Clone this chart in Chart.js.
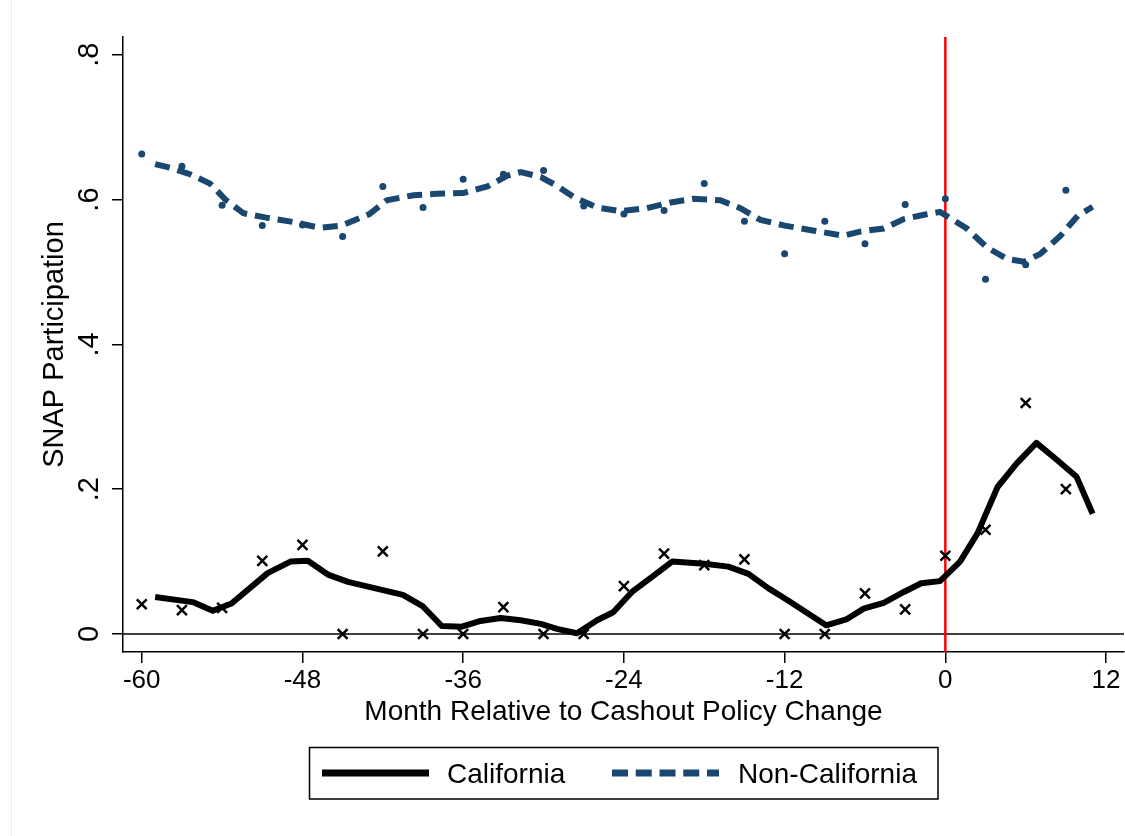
<!DOCTYPE html>
<html>
<head>
<meta charset="utf-8">
<script src="https://cdn.jsdelivr.net/npm/chart.js@4.4.0/dist/chart.umd.min.js"></script>
<style>
  html, body { margin: 0; padding: 0; background: #fff; }
  #wrap { width: 1125px; height: 836px; position: relative; }
</style>
</head>
<body>
<div id="wrap"><canvas id="chart" width="1125" height="836"></canvas></div>
<script>
// raw points, every 3 months
const scatterMonths = [-60, -57, -54, -51, -48, -45, -42, -39, -36, -33, -30, -27, -24, -21, -18, -15, -12, -9, -6, -3, 0, 3, 6, 9];
const caScatter = [0.041, 0.033, 0.036, 0.101, 0.123, 0, 0.114, 0, 0, 0.037, 0, 0, 0.066, 0.111, 0.095, 0.103, 0, 0, 0.056, 0.034, 0.108, 0.144, 0.319, 0.200];
const nonCaScatter = [0.663, 0.646, 0.592, 0.564, 0.565, 0.549, 0.618, 0.589, 0.628, 0.635, 0.640, 0.591, 0.580, 0.585, 0.622, 0.570, 0.525, 0.570, 0.539, 0.593, 0.601, 0.490, 0.510, 0.613];

// smoothed lines
const caSmoothMonths = [-59, -56.2, -54.7, -53.3, -50.6, -48.9, -47.6, -46.1, -44.6, -40.5, -39, -37.6, -36.1, -34.7, -33.2, -31.7, -30.2, -29, -27.5, -26, -24.8, -23.4, -21.9, -20.4, -18, -16.2, -14.7, -13.2, -11.8, -8.9, -7.4, -6.1, -4.6, -3.1, -1.8, -0.4, 1.1, 2.4, 3.9, 5.3, 6.8, 8.3, 9.8, 11];
const caSmooth = [0.051, 0.044, 0.032, 0.042, 0.084, 0.100, 0.101, 0.082, 0.072, 0.054, 0.038, 0.011, 0.010, 0.018, 0.022, 0.019, 0.014, 0.007, 0.001, 0.019, 0.030, 0.058, 0.079, 0.100, 0.097, 0.093, 0.083, 0.063, 0.047, 0.012, 0.020, 0.035, 0.043, 0.058, 0.070, 0.073, 0.100, 0.139, 0.203, 0.235, 0.264, 0.241, 0.217, 0.166];
const nonCaSmoothMonths = [-59, -57.9, -56.4, -54.9, -53.7, -52.4, -50.7, -48.7, -46.7, -45.1, -43, -41.7, -39.7, -38, -36, -34.2, -32.7, -31.7, -30.2, -29, -27.7, -26, -24.3, -22.3, -20.5, -18.8, -16.8, -15.3, -13.8, -12, -9.8, -7.6, -6.3, -4.6, -3.1, -1.6, -0.4, 0.3, 1.6, 3.1, 4.6, 5.9, 7.1, 8.6, 9.9, 11];
const nonCaSmooth = [0.649, 0.644, 0.635, 0.622, 0.599, 0.581, 0.575, 0.569, 0.561, 0.564, 0.580, 0.599, 0.606, 0.608, 0.609, 0.618, 0.633, 0.638, 0.631, 0.619, 0.603, 0.589, 0.584, 0.588, 0.596, 0.601, 0.599, 0.588, 0.572, 0.564, 0.557, 0.550, 0.556, 0.560, 0.573, 0.579, 0.583, 0.575, 0.560, 0.534, 0.518, 0.514, 0.525, 0.550, 0.578, 0.590];

const xTicks = [-60, -48, -36, -24, -12, 0, 12];
const yTicks = [0, 0.2, 0.4, 0.6, 0.8];
const yTickLabels = ['0', '.2', '.4', '.6', '.8'];
const seriesNames = ['California', 'Non-California'];
const policyMonth = 0;

const navy = '#1a476f';
const family = 'Arial, "Liberation Sans", Helvetica, sans-serif';

function pts(xs, ys) {
  return xs.map((x, i) => ({ x: x, y: ys[i] }));
}

// zero line + red policy line, under the data
const refLines = {
  id: 'refLines',
  beforeDatasetsDraw(chart) {
    const { ctx, chartArea, scales } = chart;
    const y0 = scales.y.getPixelForValue(0);
    const xp = scales.x.getPixelForValue(policyMonth);
    ctx.save();
    ctx.strokeStyle = '#000';
    ctx.lineWidth = 1.5;
    ctx.beginPath();
    ctx.moveTo(chartArea.left, y0);
    ctx.lineTo(chartArea.right, y0);
    ctx.stroke();
    ctx.strokeStyle = '#ff0000';
    ctx.lineWidth = 2.5;
    ctx.beginPath();
    ctx.moveTo(xp, chartArea.top);
    ctx.lineTo(xp, chartArea.bottom);
    ctx.stroke();
    ctx.restore();
  }
};

// rotated y tick labels and the boxed legend
const extras = {
  id: 'extras',
  afterDraw(chart) {
    const { ctx, scales } = chart;
    ctx.save();
    ctx.fillStyle = '#000';
    ctx.font = '29px ' + family;
    ctx.textAlign = 'center';
    ctx.textBaseline = 'alphabetic';
    scales.y.ticks.forEach((t, i) => {
      const py = scales.y.getPixelForValue(t.value);
      ctx.save();
      ctx.translate(97.5, py);
      ctx.rotate(-Math.PI / 2);
      ctx.fillText(yTickLabels[i], 0, 0);
      ctx.restore();
    });

    // legend
    ctx.strokeStyle = '#000';
    ctx.lineWidth = 1.5;
    ctx.strokeRect(309.5, 747.5, 628.5, 51.5);
    ctx.lineWidth = 7;
    ctx.beginPath();
    ctx.moveTo(322, 773);
    ctx.lineTo(429, 773);
    ctx.stroke();
    ctx.strokeStyle = navy;
    ctx.setLineDash([16, 7.75]);
    ctx.beginPath();
    ctx.moveTo(612, 773);
    ctx.lineTo(719, 773);
    ctx.stroke();
    ctx.setLineDash([]);
    ctx.font = '28px ' + family;
    ctx.textAlign = 'left';
    ctx.fillText(seriesNames[0], 447, 783);
    ctx.fillText(seriesNames[1], 738, 783);

    // faint outer frame line
    ctx.strokeStyle = '#ebebeb';
    ctx.lineWidth = 1;
    ctx.beginPath();
    ctx.moveTo(11.5, 0);
    ctx.lineTo(11.5, 836);
    ctx.stroke();
    ctx.restore();
  }
};

const ctx = document.getElementById('chart').getContext('2d');
new Chart(ctx, {
  type: 'scatter',
  data: {
    datasets: [
      {
        label: seriesNames[0] + ' raw',
        data: pts(scatterMonths, caScatter),
        pointStyle: 'crossRot',
        pointRadius: 7,
        borderColor: '#000',
        backgroundColor: '#000',
        borderWidth: 2.5,
        showLine: false,
        order: 1
      },
      {
        label: seriesNames[1] + ' raw',
        data: pts(scatterMonths, nonCaScatter),
        pointStyle: 'circle',
        pointRadius: 3.5,
        borderWidth: 0,
        backgroundColor: navy,
        showLine: false,
        order: 2
      },
      {
        type: 'line',
        label: seriesNames[0],
        data: pts(caSmoothMonths, caSmooth),
        borderColor: '#000',
        borderWidth: 6,
        borderJoinStyle: 'round',
        pointRadius: 0,
        tension: 0,
        fill: false,
        order: 3
      },
      {
        type: 'line',
        label: seriesNames[1],
        data: pts(nonCaSmoothMonths, nonCaSmooth),
        borderColor: navy,
        borderWidth: 6,
        borderDash: [15, 8],
        pointRadius: 0,
        tension: 0,
        fill: false,
        order: 4
      }
    ]
  },
  options: {
    responsive: false,
    animation: false,
    devicePixelRatio: 1,
    layout: { autoPadding: false, padding: { left: 0, top: 37, right: 1, bottom: 0 } },
    plugins: {
      legend: { display: false },
      tooltip: { enabled: false }
    },
    scales: {
      x: {
        type: 'linear',
        min: -61.4,
        max: 13.34,
        afterFit: s => { s.height = 184; s.paddingLeft = 0; s.paddingRight = 0; },
        afterBuildTicks: s => { s.ticks = xTicks.map(v => ({ value: v })); },
        grid: { drawOnChartArea: false, drawTicks: true, tickLength: 11, color: '#000', lineWidth: 1.5 },
        border: { display: true, color: '#000', width: 1.5 },
        ticks: {
          color: '#000',
          font: { family: family, size: 26 },
          padding: 2,
          maxRotation: 0,
          autoSkip: false,
          callback: v => String(v)
        },
        title: {
          display: true,
          text: 'Month Relative to Cashout Policy Change',
          color: '#000',
          font: { family: family, size: 28 },
          padding: { top: 0, bottom: 107 }
        }
      },
      y: {
        min: -0.0249,
        max: 0.8245,
        afterFit: s => { s.width = 123; s.paddingTop = 0; s.paddingBottom = 0; },
        afterBuildTicks: s => { s.ticks = yTicks.map(v => ({ value: v })); },
        grid: { drawOnChartArea: false, drawTicks: true, tickLength: 11, color: '#000', lineWidth: 1.5 },
        border: { display: true, color: '#000', width: 1.5 },
        ticks: { display: false },
        title: {
          display: true,
          text: 'SNAP Participation',
          color: '#000',
          font: { family: family, size: 29 },
          padding: { top: 38, bottom: 0 }
        }
      }
    }
  },
  plugins: [refLines, extras]
});
</script>
</body>
</html>
